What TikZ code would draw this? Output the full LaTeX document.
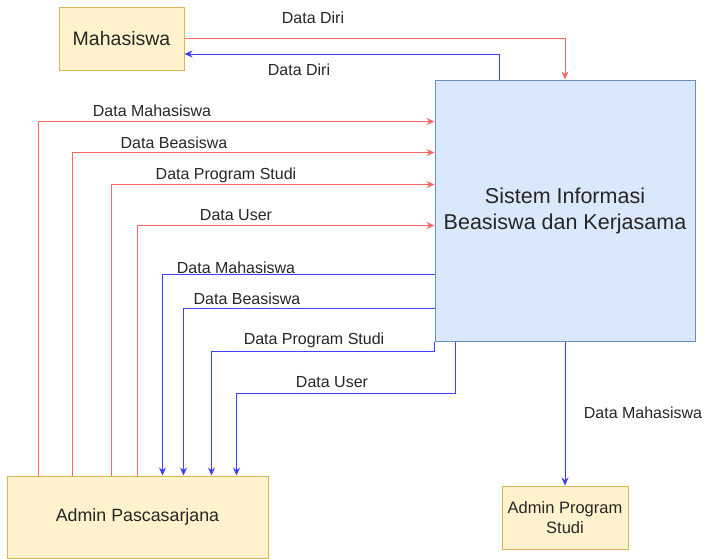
\documentclass[tikz,border=0pt]{standalone}
\usepackage{fontspec}
\setmainfont{Liberation Sans}
\usetikzlibrary{arrows.meta}
\definecolor{ybox}{HTML}{FFF2CC}
\definecolor{ybord}{HTML}{D6B656}
\definecolor{bbox}{HTML}{DAE8FC}
\definecolor{bbord}{HTML}{6C8EBF}
\definecolor{redln}{HTML}{FF6666}
\definecolor{blueln}{HTML}{3F3FFF}
\definecolor{txt}{HTML}{262626}
\tikzset{
  entity/.style={draw=ybord, fill=ybox, line width=1pt, inner sep=0pt, text=txt, align=center},
  process/.style={draw=bbord, fill=bbox, line width=1pt, inner sep=0pt, text=txt, align=center},
  lbl/.style={inner sep=0pt, text=txt, font=\fontsize{16}{19}\selectfont},
  redflow/.style={draw=redln, line width=1pt, -{Stealth[length=8pt,width=7pt]}},
  blueflow/.style={draw=blueln, line width=1pt, -{Stealth[length=8pt,width=7pt]}},
  redline/.style={draw=redln, line width=1pt},
  blueline/.style={draw=blueln, line width=1pt}
}
\begin{document}
\begin{tikzpicture}[x=1pt,y=-1pt]
\useasboundingbox (0,0) rectangle (709,558);
% nodes
\node[entity, minimum width=125pt, minimum height=63pt, font=\fontsize{19.5}{23}\selectfont] (mah) at (121.5,38.5) {Mahasiswa};
\node[process, minimum width=260pt, minimum height=261pt, font=\fontsize{21.5}{26}\selectfont] (sis) at (565,210.5) {Sistem Informasi\\Beasiswa dan Kerjasama};
\node[entity, minimum width=261pt, minimum height=82pt, font=\fontsize{17.8}{21}\selectfont] (ap) at (137.5,517) {Admin Pascasarjana};
\node[entity, minimum width=126pt, minimum height=63pt, font=\fontsize{16.5}{20}\selectfont] (aps) at (565,517.5) {Admin Program\\Studi};
% Data Diri
\draw[redflow] (mah.east) -| (sis.north);
\draw[blueflow] ([xshift=65pt]sis.north west) |- ([yshift=-15.5pt]mah.east);
% red flows from Admin Pascasarjana to Sistem
\draw[redflow] ([xshift=32pt]ap.north west) |- ([yshift=-42pt]sis.north west);
\draw[redflow] ([xshift=66pt]ap.north west) |- ([yshift=-73pt]sis.north west);
\draw[redflow] ([xshift=105pt]ap.north west) |- ([yshift=-105pt]sis.north west);
\draw[redflow] ([xshift=131pt]ap.north west) |- ([yshift=-146pt]sis.north west);
% blue flows from Sistem to Admin Pascasarjana
\draw[blueflow] ([yshift=-195pt]sis.north west) -| ([xshift=156pt]ap.north west);
\draw[blueflow] ([yshift=-229pt]sis.north west) -| ([xshift=177pt]ap.north west);
\draw[blueflow] (sis.south west) -- ++(0,10) -| ([xshift=205pt]ap.north west);
\draw[blueflow] ([xshift=21pt]sis.south west) -- ++(0,52) -| ([xshift=230pt]ap.north west);
% Sistem to Admin Program Studi
\draw[blueflow] (sis.south) -- (aps.north);
% labels
\node[lbl] (l1) at (313,18) {Data Diri};
\node[lbl] (l2) at (299,70) {Data Diri};
\node[lbl] (l3) at (152,111) {Data Mahasiswa};
\node[lbl] (l4) at (174,143) {Data Beasiswa};
\node[lbl] (l5) at (226,175) {Data Program Studi};
\node[lbl] (l6) at (236,215) {Data User};
\node[lbl] (l7) at (236,268) {Data Mahasiswa};
\node[lbl] (l8) at (247,299) {Data Beasiswa};
\node[lbl] (l9) at (314,340) {Data Program Studi};
\node[lbl] (l10) at (332,382) {Data User};
\node[lbl] (l11) at (643,413) {Data Mahasiswa};
\end{tikzpicture}
\end{document}
